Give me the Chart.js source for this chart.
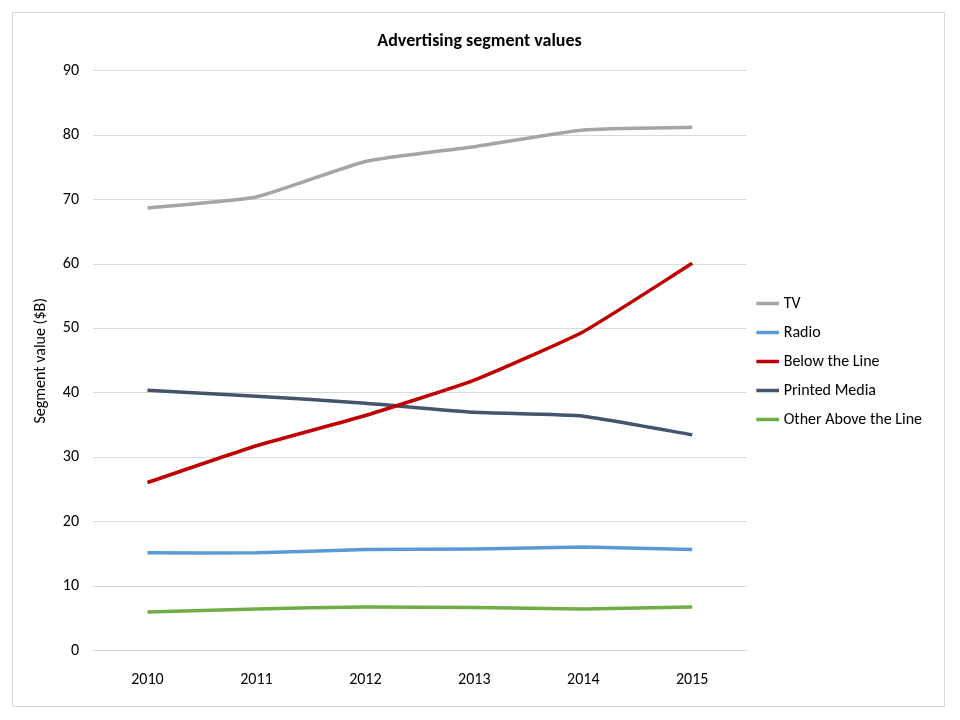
<!DOCTYPE html>
<html>
<head>
<meta charset="utf-8">
<script src="https://cdn.jsdelivr.net/npm/chart.js@4"></script>
<style>
  body { margin: 0; background: #fff; }
  #frame { position: absolute; left: 12px; top: 12px; width: 931px; height: 693px; border: 1px solid #d9d9d9; }
</style>
</head>
<body>
<div id="frame"><canvas id="chart" width="931" height="693"></canvas></div>
<script>
// Chart data
const years = ['2010', '2011', '2012', '2013', '2014', '2015'];
const tv = [68.7, 70.4, 75.9, 78.2, 80.8, 81.2];
const radio = [15.2, 15.2, 15.7, 15.8, 16.1, 15.7];
const belowTheLine = [26.1, 31.8, 36.5, 42.0, 49.5, 60.1];
const printedMedia = [40.4, 39.5, 38.4, 37.0, 36.4, 33.5];
const otherAbove = [6.0, 6.5, 6.8, 6.7, 6.5, 6.8];

const series = [
  { label: 'TV', data: tv, color: '#a5a5a5' },
  { label: 'Radio', data: radio, color: '#5b9bd5' },
  { label: 'Below the Line', data: belowTheLine, color: '#c00000' },
  { label: 'Printed Media', data: printedMedia, color: '#44546a' },
  { label: 'Other Above the Line', data: otherAbove, color: '#70ad47' }
];

Chart.defaults.font.family = 'Carlito, "Liberation Sans", Arial, sans-serif';
Chart.defaults.color = '#000';

new Chart(document.getElementById('chart'), {
  type: 'line',
  data: {
    labels: years,
    datasets: series.map(s => ({
      label: s.label,
      data: s.data,
      borderColor: s.color,
      backgroundColor: s.color,
      borderWidth: 3.5,
      pointRadius: 0,
      tension: 0.15
    }))
  },
  options: {
    responsive: false,
    animation: false,
    layout: { padding: { top: 8, left: 14, right: 12, bottom: 4 } },
    plugins: {
      title: {
        display: true,
        text: 'Advertising segment values',
        font: { size: 18, weight: 'bold' },
        padding: { top: 10, bottom: 18 }
      },
      legend: {
        position: 'right',
        labels: {
          usePointStyle: true,
          pointStyle: 'line',
          boxWidth: 22,
          font: { size: 16 },
          padding: 13
        }
      },
      tooltip: { enabled: false }
    },
    scales: {
      x: {
        offset: true,
        grid: { display: false },
        border: { color: '#d9d9d9' },
        ticks: { font: { size: 16 }, padding: 12 }
      },
      y: {
        min: 0,
        max: 90,
        afterFit: axis => { axis.width = 66; },
        ticks: { stepSize: 10, font: { size: 16 }, padding: 14 },
        grid: { color: '#d9d9d9', drawTicks: false },
        border: { display: false },
        title: { display: true, text: 'Segment value ($B)', font: { size: 16 } }
      }
    }
  },
  plugins: [{
    id: 'legendGap',
    beforeInit(chart) {
      const orig = chart.legend && chart.legend.fit;
    },
    afterLayout() {}
  }]
});
</script>
</body>
</html>
